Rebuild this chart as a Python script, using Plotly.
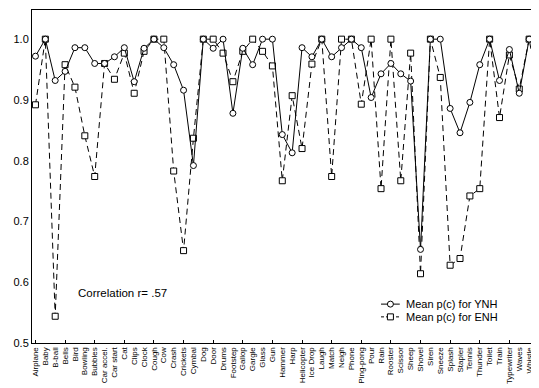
import plotly.graph_objects as go

categories = ["Airplane", "Baby", "B-ball", "Bells", "Bird", "Bowling", "Bubbles", "Car accel.",
              "Car start", "Cat", "Clips", "Clock", "Cough", "Cow", "Crash", "Crickets", "Cymbal",
              "Dog", "Door", "Drums", "Footstep", "Gallop", "Gargle", "Glass", "Gun", "Hammer",
              "Harp", "Helicopter", "Ice Drop", "Laugh", "Match", "Neigh", "Phone", "Ping-pong",
              "Pour", "Rain", "Rooster", "Scissor", "Sheep", "Shovel", "Siren", "Sneeze", "Splash",
              "Stapler", "Tennis", "Thunder", "Toilet", "Train", "Typewriter", "Waves", "Whistle", "Zoom"]

ynh = [0.972, 1.0, 0.932, 0.947, 0.986, 0.986, 0.960, 0.960, 0.971, 0.986,
       0.930, 0.985, 1.0, 0.986, 0.958, 0.916, 0.792, 1.0, 0.985, 1.0,
       0.878, 0.985, 0.958, 1.0, 1.0, 0.843, 0.813, 0.986, 0.971, 1.0,
       0.971, 0.986, 1.0, 0.986, 0.904, 0.943, 0.960, 0.943, 0.931, 0.654,
       1.0, 1.0, 0.886, 0.846, 0.896, 0.958, 1.0, 0.932, 0.983, 0.911,
       1.0, 0.986]

enh = [0.892, 1.0, 0.544, 0.958, 0.921, 0.841, 0.774, 0.960, 0.934, 0.977,
       0.911, 0.980, 1.0, 1.0, 0.783, 0.652, 0.837, 1.0, 1.0, 0.977,
       0.930, 0.980, 1.0, 0.980, 0.956, 0.767, 0.907, 0.820, 0.959, 1.0,
       0.774, 1.0, 1.0, 0.893, 1.0, 0.754, 1.0, 0.767, 0.977, 0.614,
       1.0, 0.937, 0.628, 0.639, 0.742, 0.754, 1.0, 0.871, 0.974, 0.918,
       1.0, 0.911]

series_names = ["Mean p(c) for YNH", "Mean p(c) for ENH"]
y_ticks = [0.5, 0.6, 0.7, 0.8, 0.9, 1.0]
y_ticktext = ["0.5", "0.6", "0.7", "0.8", "0.9", "1.0"]
x_major = list(range(0, 52, 3))

idx = list(range(len(categories)))
FONT = "Liberation Sans, Arial, sans-serif"
NARROW = "Liberation Sans Narrow, Arial Narrow, Liberation Sans, sans-serif"
ENH_DASH = "6px,4px"

fig = go.Figure()
fig.add_trace(go.Scatter(
    x=idx, y=enh, mode="lines+markers", name=series_names[1],
    line=dict(color="black", width=1, dash=ENH_DASH),
    marker=dict(symbol="square", size=6, color="white", line=dict(color="black", width=1)),
    cliponaxis=False, showlegend=False,
))
fig.add_trace(go.Scatter(
    x=idx, y=ynh, mode="lines+markers", name=series_names[0],
    line=dict(color="black", width=1),
    marker=dict(symbol="circle", size=6, color="white", line=dict(color="black", width=1)),
    cliponaxis=False, showlegend=False,
))

# custom compact legend (positions in data coordinates of the plot)
shapes = []
annotations = []
leg_x0, leg_x1, leg_xc, leg_text_x = 35.0, 36.9, 35.95, 37.3
leg_rows = [0.564, 0.543]
for name, ly, dash, kind in zip(series_names, leg_rows, ["solid", "3px,2px"], ["circle", "rect"]):
    shapes.append(dict(type="line", xref="x", yref="y", x0=leg_x0, x1=leg_x1, y0=ly, y1=ly,
                       line=dict(color="black", width=1, dash=dash)))
    shapes.append(dict(type=kind, xref="x", yref="y", xsizemode="pixel", ysizemode="pixel",
                       xanchor=leg_xc, yanchor=ly, x0=-3, x1=3, y0=-3, y1=3,
                       fillcolor="white", line=dict(color="black", width=1)))
    annotations.append(dict(x=leg_text_x, y=ly, xref="x", yref="y", text=name, showarrow=False,
                            xanchor="left", yanchor="middle", font=dict(size=11, family=FONT)))

annotations.append(dict(x=4.1, y=0.582, xref="x", yref="y", text="Correlation r= .57",
                        showarrow=False, xanchor="left", yanchor="middle",
                        font=dict(size=11.5, family=FONT)))

fig.update_layout(
    width=531, height=380,
    margin=dict(l=24, r=0, t=2, b=45),
    paper_bgcolor="white", plot_bgcolor="white",
    font=dict(family=FONT, color="black", size=10),
    showlegend=False,
    xaxis=dict(range=[-0.35, 51.0], tickmode="array", tickvals=idx, ticktext=categories,
               tickangle=-90, ticks="", showgrid=False, zeroline=False,
               showline=True, linecolor="black", linewidth=1, mirror=True,
               tickfont=dict(size=8, family=NARROW),
               minor=dict(tickmode="array", tickvals=x_major, ticks="inside", ticklen=3,
                          tickcolor="black", showgrid=False)),
    yaxis=dict(range=[0.5, 1.048], tickmode="array", tickvals=y_ticks, ticktext=y_ticktext,
               ticks="", showgrid=False, zeroline=False,
               showline=True, linecolor="black", linewidth=1, mirror=True,
               tickfont=dict(size=11, family=FONT)),
    shapes=shapes,
    annotations=annotations,
)

fig.write_html("out.html")
